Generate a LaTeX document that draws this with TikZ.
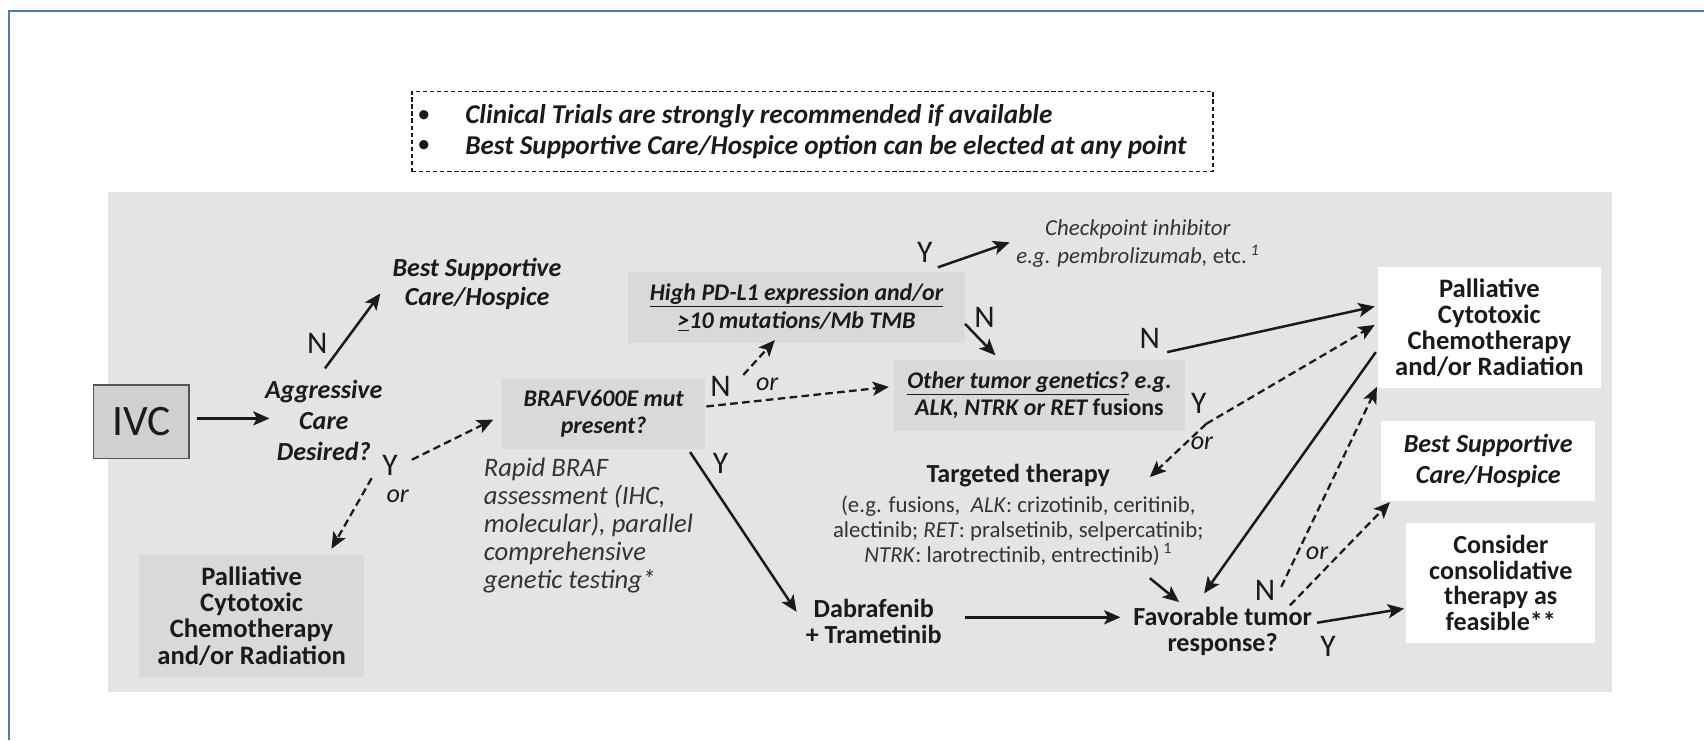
\documentclass[tikz,border=0pt]{standalone}
\usepackage{fontspec}
\setmainfont{Carlito}
\usetikzlibrary{arrows.meta,calc}
\definecolor{ink}{HTML}{1A1A1A}
\definecolor{soft}{HTML}{333333}
\definecolor{panelgray}{HTML}{E4E4E4}
\definecolor{boxgray}{HTML}{D9D9D9}
\definecolor{ivcgray}{HTML}{D0D0D0}
\definecolor{ivcborder}{HTML}{555555}
\definecolor{framebl}{HTML}{4F78C0}
\newcommand\myfs[2]{\fontsize{#1}{#2}\selectfont}
\begin{document}
\begin{tikzpicture}[x=1pt,y=-1pt,
  every node/.style={inner sep=0pt, text=ink},
  lbl/.style={font=\myfs{29}{29}},
  orl/.style={font=\itshape\myfs{24}{24}},
  arr/.style={draw=ink, line width=2.3pt, -{Stealth[length=15pt,width=13pt,inset=3.5pt]}},
  darr/.style={arr, line width=2.1pt, dash pattern=on 7pt off 4pt},
  graybox/.style={fill=boxgray},
  whitebox/.style={fill=white}]
\useasboundingbox (0,0) rectangle (1568,681);
\fill[white] (0,0) rectangle (1568,681);
\draw[framebl, line width=1.5pt] (8,681) -- (8,10) -- (1568,10);

% dashed note
\node[draw=ink, line width=1.3pt, dash pattern=on 4pt off 2.5pt, minimum width=737, minimum height=74] (note) at (747.5,121) {};
\node[font=\myfs{24}{24}] (b1) at (390,107) {\textbullet};
\node[font=\myfs{24}{24}] (b2) at (390,135) {\textbullet};
\node[anchor=west, font=\bfseries\itshape\myfs{25}{25}] (t1) at (428,107) {Clinical Trials are strongly recommended if available};
\node[anchor=west, font=\bfseries\itshape\myfs{25}{25}] (t2) at (428,135) {Best Supportive Care/Hospice option can be elected at any point};

% panel
\node[fill=panelgray, minimum width=1384, minimum height=460] (panel) at (791,407) {};

% nodes
\node[fill=ivcgray, draw=ivcborder, line width=1.5pt, minimum width=88, minimum height=68, font=\myfs{40}{40}] (ivc) at (130,388) {IVC};
\node[font=\bfseries\itshape\myfs{24}{28.5}, align=center] (aggr) at (298,387) {Aggressive\\Care\\Desired?};
\node[font=\bfseries\itshape\myfs{24}{27}, align=center] (bsc1) at (439,261) {Best Supportive\\Care/Hospice};
\node[lbl] (lN1) at (292,316) {N};
\node[lbl] (lY1) at (359,428) {Y};
\node[orl] (or1) at (366,457) {or};
\node[graybox, minimum width=207, minimum height=114, font=\bfseries\myfs{24.5}{24}, align=center] (pall1) at (231.5,567) {Palliative\\Cytotoxic\\Chemotherapy\\and/or Radiation};
\node[graybox, minimum width=187, minimum height=65, font=\bfseries\itshape\myfs{22}{25}, align=center] (braf) at (555.5,380.5) {BRAFV600E mut\\present?};
\node[anchor=west, font=\itshape\myfs{24.5}{25.7}, align=left, text=soft] (rapid) at (445,483.5) {Rapid BRAF\\assessment (IHC,\\molecular), parallel\\comprehensive\\genetic testing*};
\node[lbl] (lY2) at (663,426) {Y};
\node[font=\bfseries\myfs{24}{24.5}, align=center] (dab) at (804,572) {Dabrafenib\\+ Trametinib};
\node[lbl] (lN2) at (663,356) {N};
\node[orl] (or2) at (706,354) {or};
\node[graybox, minimum width=310, minimum height=66, font=\bfseries\itshape\myfs{22}{26}, align=center] (pdl1) at (733,283) {\underline{High PD-L1 expression and/or}\\\underline{>}10 mutations/Mb TMB};
\node[lbl] (lY3) at (851,232) {Y};
\node[font=\itshape\myfs{21}{26}, align=center, text=soft] (check) at (1047,224) {Checkpoint inhibitor\\e.g. pembrolizumab, {\upshape etc.}\,\textsuperscript{1}};
\node[lbl] (lN3) at (906,292) {N};
\node[graybox, minimum width=267, minimum height=66, font=\bfseries\itshape\myfs{22}{25}, align=center] (other) at (956.5,364) {\underline{Other tumor genetics?} e.g.\\ALK, NTRK or RET {\upshape fusions}};
\node[lbl] (lN4) at (1058,311) {N};
\node[lbl] (lY4) at (1103,371) {Y};
\node[orl] (or4) at (1106,408) {or};
\node[font=\bfseries\myfs{24}{24}] (targ) at (937,438) {Targeted therapy};
\node[font=\myfs{21}{23}, align=center, text=soft] (targd) at (937,488) {(e.g. fusions,\ \ \textit{ALK}: crizotinib, ceritinib,\\alectinib; \textit{RET}: pralsetinib, selpercatinib;\\\textit{NTRK}: larotrectinib, entrectinib)\,\textsuperscript{1}};
\node[font=\bfseries\myfs{24}{24}, align=center] (fav) at (1125,581) {Favorable tumor\\response?};
\node[lbl] (lY5) at (1222,595) {Y};
\node[lbl] (lN5) at (1164,543) {N};
\node[orl] (or5) at (1212,509) {or};
\node[whitebox, minimum width=205, minimum height=111, font=\bfseries\myfs{24.5}{24}, align=center] (pall2) at (1370.5,301.5) {Palliative\\Cytotoxic\\Chemotherapy\\and/or Radiation};
\node[whitebox, minimum width=197, minimum height=74, font=\bfseries\itshape\myfs{24}{28}, align=center] (bsc2) at (1369.5,424) {Best Supportive\\Care/Hospice};
\node[whitebox, minimum width=174, minimum height=111, font=\bfseries\myfs{24}{23.7}, align=center] (cons) at (1381,536.5) {Consider\\consolidative\\therapy as\\feasible**};

% connectors
\draw[arr] ($(ivc)+(51,-3)$) -- ($(aggr)+(-50,-2)$);
\draw[arr] ($(aggr)+(1,-48)$) -- ($(bsc1)+(-89,9)$);
\draw[darr] ($(lY1)+(20,-5)$) -- ($(braf)+(-101.5,5.5)$);
\draw[darr] ($(lY1)+(-17,12)$) -- ($(pall1)+(73.5,-62)$);
\draw[arr] ($(braf)+(79.5,35.5)$) -- ($(dab)+(-71,-9)$);
\draw[darr] ($(lN2)+(21,-11)$) -- ($(pdl1)+(-20,30)$);
\draw[darr] ($(braf)+(94.5,-6.5)$) -- ($(other)+(-138.5,-8)$);
\draw[arr] ($(lY3)+(12,14)$) -- ($(check)+(-118,-1)$);
\draw[arr] ($(lN3)+(-18,6)$) -- ($(other)+(-40.5,-37)$);
\draw[arr] ($(lN4)+(16,13)$) -- ($(pall2)+(-105.5,-19.5)$);
\draw[darr] ($(lY4)+(7,19)$) -- ($(pall2)+(-105.5,-2.5)$);
\draw[darr] ($(lY4)+(7,19)$) -- ($(targ)+(121,1)$);
\draw[arr] ($(dab)+(84,-4)$) -- ($(fav)+(-94,-13)$);
\draw[arr] ($(targd)+(121,44)$) -- ($(fav)+(-40,-27)$);
\draw[arr] ($(pall2)+(-104.5,22.5)$) -- ($(fav)+(-17,-35)$);
\draw[darr] ($(lN5)+(15,-3)$) -- ($(pall2)+(-103.5,54.5)$);
\draw[darr] ($(fav)+(62,-24)$) -- ($(bsc2)+(-90.5,38)$);
\draw[arr] ($(fav)+(87,-8)$) -- ($(cons)+(-89,23.5)$);
\end{tikzpicture}
\end{document}
